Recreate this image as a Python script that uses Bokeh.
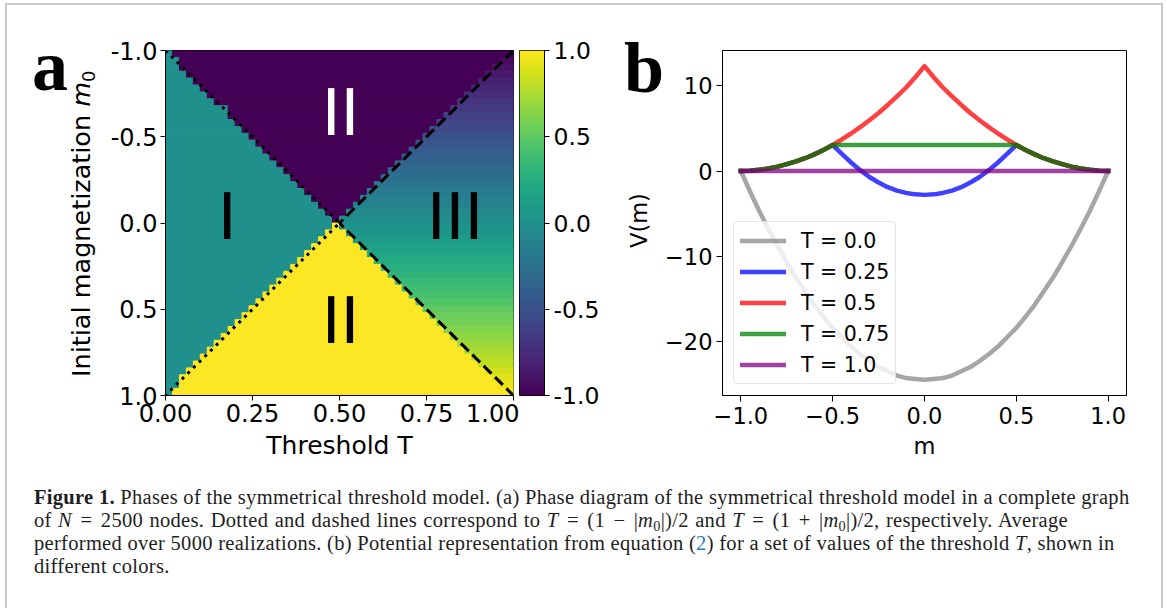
import numpy as np
from bokeh.plotting import figure
from bokeh.models import (Range1d, FixedTicker, LinearColorMapper, Legend,
                          LegendItem, Div, ColumnDataSource)
from bokeh.layouts import row, column
from bokeh.palettes import Viridis256
from bokeh.core.properties import value
from bokeh.embed import file_html
from bokeh.resources import INLINE

# ---------------- Panel (a): phase diagram data ----------------
n_T = 50                      # grid columns (threshold T)
n_m0 = 50                     # grid rows (initial magnetization m0)
phase_I_value = 0.0           # region I  : final magnetization 0
phase_II_neg_value = -1.0     # region II, m0 < 0 : consensus -1
phase_II_pos_value = 1.0      # region II, m0 > 0 : consensus +1
# region III: final magnetization keeps the initial value m0 (vertical gradient)

dotted_T = [0.0, 0.5, 0.0]    # T = (1 - |m0|)/2
dotted_m0 = [-1.0, 0.0, 1.0]
dashed_T = [1.0, 0.5, 1.0]    # T = (1 + |m0|)/2
dashed_m0 = [-1.0, 0.0, 1.0]

a_xticks = [0, 0.25, 0.5, 0.75, 1]
a_xtick_labels = ["0.00", "0.25", "0.50", "0.75", "1.00"]
a_yticks = [-1, -0.5, 0, 0.5, 1]
a_ytick_labels = ["-1.0", "-0.5", "0.0", "0.5", "1.0"]
cb_ticks = [-1, -0.5, 0, 0.5, 1]
cb_tick_labels = ["-1.0", "-0.5", "0.0", "0.5", "1.0"]
region_labels = ["I", "II", "II", "III"]

# ---------------- Panel (b): potential curves ----------------
m_vals = [-1.0, -0.95, -0.9, -0.85, -0.8, -0.75, -0.7, -0.65, -0.6, -0.55, -0.5,
          -0.45, -0.4, -0.35, -0.3, -0.25, -0.2, -0.15, -0.1, -0.05, 0.0,
          0.05, 0.1, 0.15, 0.2, 0.25, 0.3, 0.35, 0.4, 0.45, 0.5,
          0.55, 0.6, 0.65, 0.7, 0.75, 0.8, 0.85, 0.9, 0.95, 1.0]
V_T000 = [0.0, -2.4, -4.7, -6.8, -8.8, -10.7, -12.5, -14.1, -15.7, -17.1, -18.4,
          -19.5, -20.6, -21.5, -22.3, -23.0, -23.5, -24.0, -24.3, -24.4, -24.5,
          -24.4, -24.3, -24.0, -23.5, -23.0, -22.3, -21.5, -20.6, -19.5, -18.4,
          -17.1, -15.7, -14.1, -12.5, -10.7, -8.8, -6.8, -4.7, -2.4, 0.0]
V_T025 = [0.0, 0.04, 0.14, 0.30, 0.52, 0.80, 1.12, 1.50, 1.95, 2.47, 3.05,
          2.0, 1.0, 0.1, -0.7, -1.35, -1.9, -2.3, -2.57, -2.74, -2.8,
          -2.74, -2.57, -2.3, -1.9, -1.35, -0.7, 0.1, 1.0, 2.0, 3.05,
          2.47, 1.95, 1.50, 1.12, 0.80, 0.52, 0.30, 0.14, 0.04, 0.0]
V_T050 = [0.0, 0.04, 0.14, 0.30, 0.52, 0.80, 1.12, 1.50, 1.95, 2.47, 3.05,
          3.7, 4.4, 5.15, 5.95, 6.8, 7.75, 8.75, 9.8, 11.0, 12.3,
          11.0, 9.8, 8.75, 7.75, 6.8, 5.95, 5.15, 4.4, 3.7, 3.05,
          2.47, 1.95, 1.50, 1.12, 0.80, 0.52, 0.30, 0.14, 0.04, 0.0]
V_T075 = [0.0, 0.04, 0.14, 0.30, 0.52, 0.80, 1.12, 1.50, 1.95, 2.47, 3.05,
          3.05, 3.05, 3.05, 3.05, 3.05, 3.05, 3.05, 3.05, 3.05, 3.05,
          3.05, 3.05, 3.05, 3.05, 3.05, 3.05, 3.05, 3.05, 3.05, 3.05,
          2.47, 1.95, 1.50, 1.12, 0.80, 0.52, 0.30, 0.14, 0.04, 0.0]
m_T100 = [-1.0, 1.0]
V_T100 = [0.0, 0.0]
series_labels = ["T = 0.0", "T = 0.25", "T = 0.5", "T = 0.75", "T = 1.0"]
series_colors = ["#808080", "#0000ff", "#ff0000", "#008000", "#800080"]

b_xticks = [-1, -0.5, 0, 0.5, 1]
b_xtick_labels = ["\u22121.0", "\u22120.5", "0.0", "0.5", "1.0"]
b_yticks = [-20, -10, 0, 10]
b_ytick_labels = ["\u221220", "\u221210", "0", "10"]

# ---------------- helpers ----------------
FONT = "DejaVu Sans"


def style_axis(ax, size, tick_out, standoff):
    ax.axis_line_color = "black"
    ax.axis_line_width = 1
    ax.major_tick_line_color = "black"
    ax.major_tick_out = tick_out
    ax.major_tick_in = 0
    ax.minor_tick_line_color = None
    ax.major_label_text_font = FONT
    ax.major_label_text_font_size = size
    ax.major_label_text_color = "black"
    ax.major_label_standoff = standoff
    ax.axis_label_text_font = FONT
    ax.axis_label_text_font_style = "normal"
    ax.axis_label_text_color = "black"


def abs_text(left, top, css, html, rotate=False):
    rot = "transform-origin:0 0; transform:rotate(-90deg);" if rotate else ""
    return (f"<div style=\"position:absolute; left:{left}px; top:{top}px; white-space:nowrap; "
            f"color:#000; {rot} {css}\">{html}</div>")


def strip(width, parts):
    html = (f"<div style=\"position:relative; width:{width}px; height:465px;\">"
            + "".join(parts) + "</div>")
    return Div(text=html, width=width, height=465, margin=(0, 0, 0, 0))


LETTER_CSS = "font-family:'Liberation Serif', serif; font-weight:bold; font-size:72px; line-height:72px;"

mapper = LinearColorMapper(palette=Viridis256, low=-1, high=1)

# ---------------- Panel (a) label strip (page x 7..102) ----------------
fa_lab = strip(95, [
    abs_text(25, 25, LETTER_CSS, "a"),
    abs_text(62, 372, "font-family:'DejaVu Sans'; font-size:25.5px; line-height:25.5px;",
             "Initial magnetization <i>m</i><span style='font-size:70%; position:relative; "
             "top:0.3em;'>0</span>", rotate=True),
])

# ---------------- Panel (a) ----------------
fa = figure(width=417, height=465, x_range=Range1d(0, 1), y_range=Range1d(1, -1), title=None,
            min_border_left=63, min_border_right=6, min_border_top=45, min_border_bottom=72,
            output_backend="svg", toolbar_location=None)
fa.grid.visible = False
fa.outline_line_color = "black"
fa.outline_line_width = 1

T_edges = np.linspace(0, 1, n_T + 1)
T_cent = 0.5 * (T_edges[:-1] + T_edges[1:])
m_edges = np.linspace(-1, 1, n_m0 + 1)
lefts, rights, tops, bottoms, vals = [], [], [], [], []
for j in range(n_m0):
    mc = 0.5 * (m_edges[j] + m_edges[j + 1])
    lo = (1 - abs(mc)) / 2
    hi = (1 + abs(mc)) / 2
    n1 = int(np.sum(T_cent < lo))
    n2 = int(np.sum(T_cent < hi))
    runs = [(0, n1, phase_I_value),
            (n1, n2, phase_II_neg_value if mc < 0 else phase_II_pos_value),
            (n2, n_T, mc)]
    for a0, a1, v in runs:
        if a1 > a0:
            lefts.append(T_edges[a0]); rights.append(T_edges[a1])
            bottoms.append(m_edges[j]); tops.append(m_edges[j + 1]); vals.append(v)
cells = ColumnDataSource(dict(left=lefts, right=rights, top=tops, bottom=bottoms, v=vals))
fa.quad(left="left", right="right", top="top", bottom="bottom", source=cells,
        fill_color={"field": "v", "transform": mapper},
        line_color={"field": "v", "transform": mapper}, line_width=1)

fa.line(dotted_T, dotted_m0, line_color="black", line_width=3, line_dash="3 5", line_cap="butt")
fa.line(dashed_T, dashed_m0, line_color="black", line_width=3, line_dash="11 5", line_cap="butt")

# region numerals (centre positions in T / m0 of panel a)
fa.text(x=[0.177, 0.503, 0.503, 0.832], y=[-0.032, -0.635, 0.569, -0.032],
        text=region_labels, text_color=["black", "white", "black", "black"],
        text_font=value(FONT), text_font_size="64px",
        text_align="center", text_baseline="middle")

for ax in (fa.xaxis[0], fa.yaxis[0]):
    style_axis(ax, "24px", 5, 3)
fa.xaxis.ticker = FixedTicker(ticks=a_xticks)
fa.xaxis.major_label_overrides = dict(zip(a_xticks, a_xtick_labels))
fa.yaxis.ticker = FixedTicker(ticks=a_yticks)
fa.yaxis.major_label_overrides = dict(zip(a_yticks, a_ytick_labels))
fa.xaxis.axis_label = "Threshold T"
fa.xaxis.axis_label_text_font_size = "25px"
fa.xaxis.axis_label_standoff = 6

# ---------------- Colour bar ----------------
fcb = figure(width=91, height=465, x_range=Range1d(0, 1), y_range=Range1d(-1, 1), title=None,
             x_axis_location=None, y_axis_location="right",
             min_border_left=0, min_border_right=66, min_border_top=45, min_border_bottom=72,
             output_backend="svg", toolbar_location=None)
fcb.grid.visible = False
fcb.outline_line_color = "black"
cb_levels = np.linspace(-1, 1, 256).reshape(-1, 1)
fcb.image(image=[cb_levels], x=0, y=-1, dw=1, dh=2, color_mapper=mapper)
style_axis(fcb.yaxis[0], "23.5px", 5, 4)
fcb.yaxis.ticker = FixedTicker(ticks=cb_ticks)
fcb.yaxis.major_label_overrides = dict(zip(cb_ticks, cb_tick_labels))

# ---------------- Panel (b) label strip (page x 610..662) ----------------
fb_lab = strip(52, [
    abs_text(14, 27, LETTER_CSS, "b"),
    abs_text(18, 243, "font-family:'DejaVu Sans'; font-size:22.5px; line-height:22.5px;",
             "V(m)", rotate=True),
])

# ---------------- Panel (b) ----------------
fb = figure(width=499, height=465, x_range=Range1d(-1.1, 1.1), y_range=Range1d(-26.34, 14.14),
            title=None, min_border_left=58, min_border_right=35, min_border_top=38,
            min_border_bottom=75, output_backend="svg", toolbar_location=None)
fb.grid.visible = False
fb.outline_line_color = "black"
fb.outline_line_width = 1

curves = [(m_vals, V_T000, 0.7), (m_vals, V_T025, 0.75), (m_vals, V_T050, 0.75),
          (m_vals, V_T075, 0.75), (m_T100, V_T100, 0.75)]
renderers = []
for (xs, ys, alpha), col in zip(curves, series_colors):
    r = fb.line(xs, ys, line_color=col, line_width=4.5, line_alpha=alpha,
                line_cap="square", line_join="round")
    renderers.append(r)

legend = Legend(items=[LegendItem(label=lab, renderers=[r]) for lab, r in zip(series_labels, renderers)],
                location="bottom_left", margin=11, padding=6, spacing=6,
                glyph_width=46, glyph_height=25, label_height=25, label_standoff=15,
                label_text_font=FONT, label_text_font_size="20.5px", label_text_color="black",
                border_line_color="#cccccc", border_line_width=1,
                background_fill_color="white", background_fill_alpha=0.8)
try:
    legend.border_radius = 4
except Exception:
    pass
fb.add_layout(legend)

for ax in (fb.xaxis[0], fb.yaxis[0]):
    style_axis(ax, "22.5px", 6, 4)
fb.xaxis.major_label_standoff = 5
fb.xaxis.ticker = FixedTicker(ticks=b_xticks)
fb.xaxis.major_label_overrides = dict(zip(b_xticks, b_xtick_labels))
fb.yaxis.ticker = FixedTicker(ticks=b_yticks)
fb.yaxis.major_label_overrides = dict(zip(b_yticks, b_ytick_labels))
fb.xaxis.axis_label = "m"
fb.xaxis.axis_label_text_font_size = "22.5px"
fb.xaxis.axis_label_standoff = 6

# ---------------- Caption ----------------
SUB = "<span style='position:relative; top:0.3em; font-size:70%; line-height:0'>0</span>"
OP = "&nbsp;&#8202;"
caption_lines = [
    "<b>Figure 1.</b> Phases of the symmetrical threshold model. (a) Phase diagram of the "
    "symmetrical threshold model in a complete graph",
    "<span style='word-spacing:1px'>of <i>N</i>" + OP + "=" + OP + "2500 nodes. Dotted and dashed "
    "lines correspond to <i>T</i>" + OP + "=" + OP + "(1" + OP + "\u2212" + OP + "|<i>m</i>" + SUB +
    "|)/2 and <i>T</i>" + OP + "=" + OP + "(1" + OP + "+" + OP + "|<i>m</i>" + SUB +
    "|)/2, respectively. Average</span>",
    "performed over 5000 realizations. (b) Potential representation from equation "
    "(<span style='color:#2b7bbd'>2</span>) for a set of values of the threshold <i>T</i>, shown in",
    "different colors.",
]
caption_html = ("<div style=\"white-space:nowrap; font-family:'Liberation Serif', serif; "
                "font-size:20.5px; letter-spacing:0.3px; line-height:23px; color:#1e1e1e; "
                "padding:16px 0 0 27px;\">" + "<br>".join(caption_lines) + "</div>")
cap = Div(text=caption_html, width=1154, height=138, margin=(0, 0, 0, 0))

border = "2px solid #c8c8c8"
layout = column(row(fa_lab, fa, fcb, fb_lab, fb), cap, margin=(3, 0, 0, 5),
                styles={"border-left": border, "border-top": border, "border-right": border})

open("out.html", "w").write(file_html(layout, INLINE))
